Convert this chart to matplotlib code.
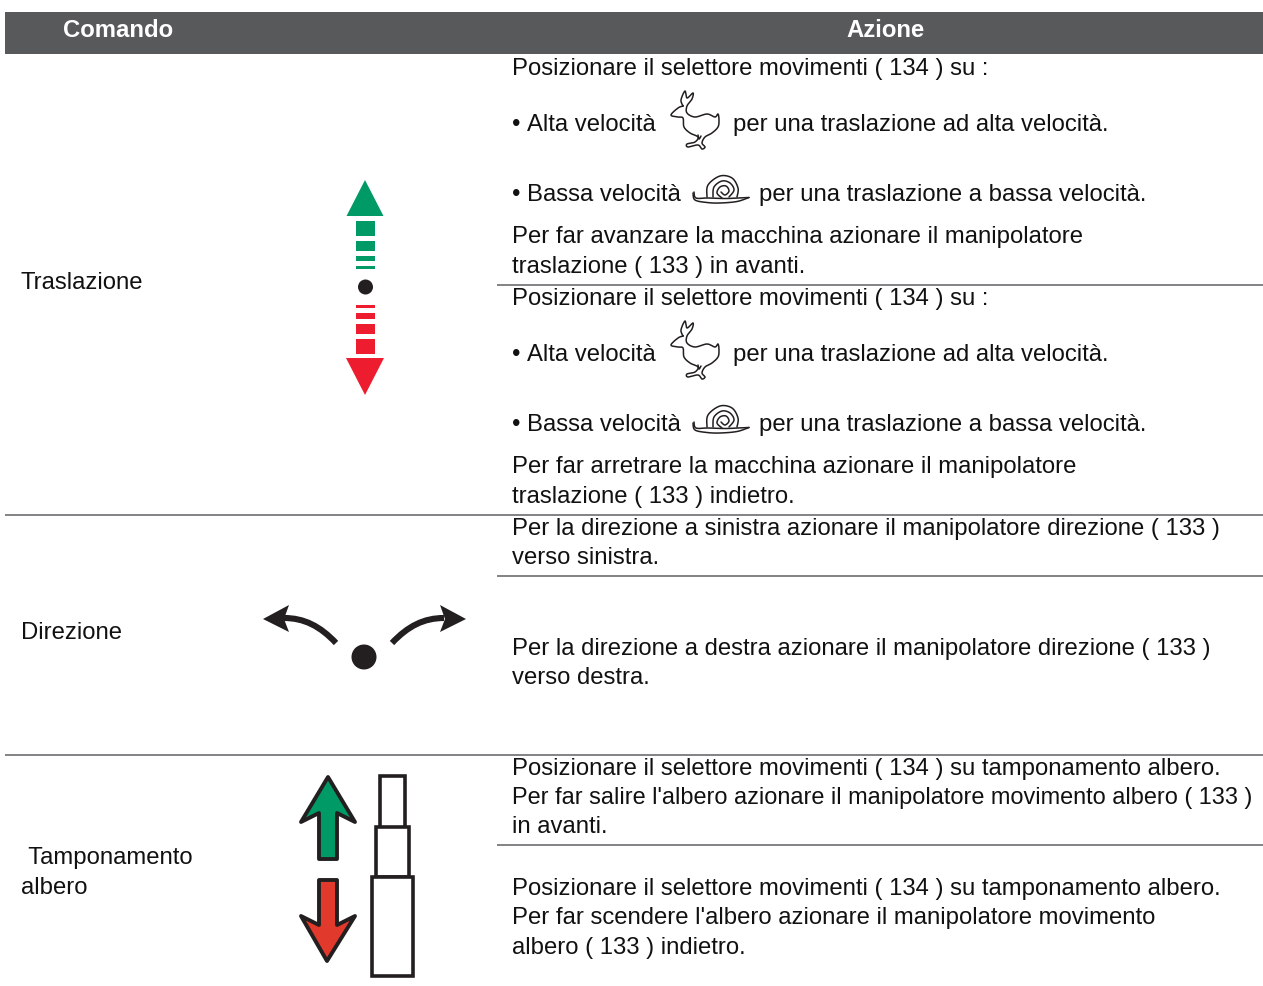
import numpy as np
import matplotlib
matplotlib.use('Agg')
import matplotlib.pyplot as plt
from matplotlib.path import Path
from matplotlib.patches import PathPatch, Polygon, Rectangle, Circle

W, H = 1263, 987
FONT = 'Liberation Sans'
SIZE = 17.2
INK = '#111111'

headers = ['Comando', 'Azione']
header_x = [118, 886]

commands = ['Traslazione', 'Direzione', ' Tamponamento', 'albero']
command_x = [20.5, 21, 21.5, 21]
command_y = [288, 638, 863, 893]

# action text: (x, baseline, text)
actions = [
    (512.5, 74, 'Posizionare il selettore movimenti ( 134 ) su :'),
    (512, 130, '•'),
    (527, 130, 'Alta velocità'),
    (733, 130, 'per una traslazione ad alta velocità.'),
    (512, 200, '•'),
    (527, 200, 'Bassa velocità'),
    (759, 200, 'per una traslazione a bassa velocità.'),
    (512.5, 242, 'Per far avanzare la macchina azionare il manipolatore'),
    (512.5, 272, 'traslazione ( 133 ) in avanti.'),
    (512.5, 304, 'Posizionare il selettore movimenti ( 134 ) su :'),
    (512, 360, '•'),
    (527, 360, 'Alta velocità'),
    (733, 360, 'per una traslazione ad alta velocità.'),
    (512, 430, '•'),
    (527, 430, 'Bassa velocità'),
    (759, 430, 'per una traslazione a bassa velocità.'),
    (512.5, 472, 'Per far arretrare la macchina azionare il manipolatore'),
    (512.5, 502, 'traslazione ( 133 ) indietro.'),
    (512.5, 534, 'Per la direzione a sinistra azionare il manipolatore direzione ( 133 )'),
    (512.5, 563, 'verso sinistra.'),
    (512.5, 654, 'Per la direzione a destra azionare il manipolatore direzione ( 133 )'),
    (512.5, 683, 'verso destra.'),
    (512.5, 774, 'Posizionare il selettore movimenti ( 134 ) su tamponamento albero.'),
    (512.5, 803, "Per far salire l'albero azionare il manipolatore movimento albero ( 133 )"),
    (512.5, 832, 'in avanti.'),
    (512.5, 894, 'Posizionare il selettore movimenti ( 134 ) su tamponamento albero.'),
    (512.5, 923, "Per far scendere l'albero azionare il manipolatore movimento"),
    (512.5, 953, 'albero ( 133 ) indietro.'),
]
tight_line = "Per far salire l'albero azionare il manipolatore movimento albero ( 133 )"

# row separators: (x start, y)
rules = [(497, 285), (5, 515), (497, 576), (5, 755), (497, 845)]

# rabbit and snail outlines, in pixels from the icon origin
rabbit = [(33, 21), (31, 15), (35, 6), (37, 13), (43, 8), (42, 14), (37, 21), (37, 28), (45, 32),
          (57, 29), (65, 32), (68, 29), (69, 35), (68, 42), (62, 48), (55, 52), (52, 58), (55, 62),
          (52, 64), (48, 60), (38, 62), (37, 59), (45, 57), (48, 52), (40, 48), (34, 42), (33, 33),
          (28, 32), (21, 30), (28, 23), (33, 21)]
rabbit_leg = [(48, 50), (49, 54), (51, 51)]
snail_top = [(44, 107), (46, 113), (58, 113), (75, 113.5), (88, 113), (99, 112.5)]
snail_bottom = [(99, 112.5), (87, 116.5), (70, 118), (57, 117.5), (45, 115), (43, 108)]
snail_shell = [(57, 112), (58, 100), (70, 91), (82, 93), (88, 103), (87, 112)]
snail_middle = [(63, 112), (64, 102), (72, 96), (80, 98), (84, 105), (79, 112)]
snail_coil = [(72, 113), (67, 108), (70, 102), (76, 101), (79, 106), (75, 110), (71, 107)]

fig = plt.figure(figsize=(W / 100, H / 100), dpi=100)
ax = fig.add_axes([0, 0, 1, 1])
ax.set_xlim(0, W)
ax.set_ylim(H - 1, -1)
ax.axis('off')


def smooth(pts, n=8):
    # catmull-rom through the points
    pts = np.array(pts, dtype=float)
    p = np.vstack([pts[0], pts, pts[-1]])
    out = []
    for i in range(1, len(p) - 2):
        for t in np.linspace(0, 1, n, endpoint=False):
            out.append(0.5 * (2 * p[i] + (p[i + 1] - p[i - 1]) * t
                              + (2 * p[i - 1] - 5 * p[i] + 4 * p[i + 1] - p[i + 2]) * t ** 2
                              + (3 * p[i] - p[i - 1] - 3 * p[i + 1] + p[i + 2]) * t ** 3))
    out.append(p[-2])
    return np.array(out)


def outline(pts, ox, oy, lw=1.1):
    xy = smooth(pts) + [ox, oy]
    ax.plot(xy[:, 0], xy[:, 1], color='#231f20', lw=lw, solid_capstyle='round')


def rabbit_icon(ox, oy):
    for part in (rabbit, rabbit_leg):
        outline(part, ox, oy)


def snail_icon(ox, oy):
    for part in (snail_top, snail_bottom, snail_shell, snail_middle, snail_coil):
        outline(part, ox, oy)


ax.add_patch(Rectangle((5, 12), W - 5, 42, fc='#58595b', ec='none'))
for x, label in zip(header_x, headers):
    ax.text(x, 36, label, color='white', fontsize=SIZE, fontweight='bold', family=FONT, ha='center', va='baseline')

for x0, y in rules:
    ax.plot([x0, W], [y, y], color='#77787b', lw=1.3, solid_capstyle='butt')

for x, y, s in zip(command_x, command_y, commands):
    ax.text(x, y, s, fontsize=SIZE, family=FONT, color=INK, va='baseline')

for x, y, s in actions:
    ax.text(x, y, s, fontsize=16.95 if s == tight_line else SIZE, family=FONT, color=INK, va='baseline')

# speed icons
rabbit_icon(650, 85)
rabbit_icon(650, 315)
snail_icon(650, 85)
snail_icon(650, 315)

# traslazione arrow
GREEN = '#009a67'
RED = '#ed1c2e'
ax.add_patch(Polygon([(365, 180), (346.5, 216), (383.5, 216)], fc=GREEN, ec='none'))
for y0, h in [(221, 15), (241, 10), (256, 5), (266, 3)]:
    ax.add_patch(Rectangle((356, y0), 19, h, fc=GREEN, ec='none'))
ax.add_patch(Circle((365.5, 287), 7.5, fc='#231f20', ec='none'))
for y0, h in [(305, 3), (313, 6), (324, 10), (339, 15)]:
    ax.add_patch(Rectangle((356, y0), 19, h, fc=RED, ec='none'))
ax.add_patch(Polygon([(346, 358), (384, 358), (365, 395)], fc=RED, ec='none'))

# direzione arrows
ax.add_patch(Circle((364, 657), 12.5, fc='#231f20', ec='none'))
left = Path([(336, 643), (320, 626), (304, 618), (284, 618)], [Path.MOVETO, Path.CURVE4, Path.CURVE4, Path.CURVE4])
right = Path([(392, 643), (408, 626), (424, 618), (444, 618)], [Path.MOVETO, Path.CURVE4, Path.CURVE4, Path.CURVE4])
ax.add_patch(PathPatch(left, fc='none', ec='#231f20', lw=4.4, capstyle='butt'))
ax.add_patch(PathPatch(right, fc='none', ec='#231f20', lw=4.4, capstyle='butt'))
ax.add_patch(Polygon([(263, 619), (289, 605), (284, 619), (289, 632)], fc='#231f20', ec='none'))
ax.add_patch(Polygon([(466, 619), (440, 605), (445, 619), (440, 632)], fc='#231f20', ec='none'))

# tamponamento arrows and mast
up = [(328, 777), (301, 822), (319, 813), (319, 859), (337, 859), (337, 813), (355, 822)]
down = [(327, 961), (301, 916), (319, 925), (319, 880), (337, 880), (337, 925), (355, 916)]
ax.add_patch(Polygon(up, fc=GREEN, ec='#231f20', lw=2.8, joinstyle='round'))
ax.add_patch(Polygon(down, fc='#e1392b', ec='#231f20', lw=2.8, joinstyle='round'))
for x0, y0, w, h in [(380, 776, 25, 52), (376, 827, 33, 50), (372, 877, 41, 99)]:
    ax.add_patch(Rectangle((x0, y0), w, h, fc='white', ec='#231f20', lw=2.6))

fig.savefig('out.png', dpi=100, facecolor='white')
